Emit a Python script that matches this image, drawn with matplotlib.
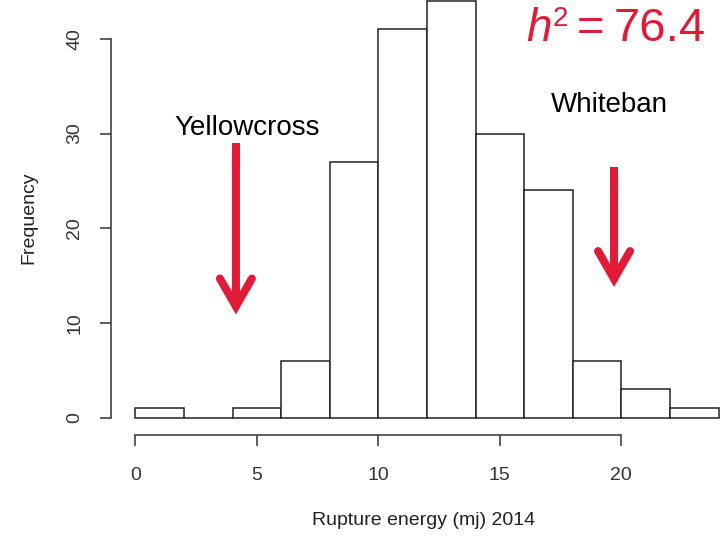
import matplotlib
matplotlib.use("Agg")
import matplotlib.pyplot as plt
from matplotlib.patches import FancyArrowPatch
import numpy as np

# Histogram of rupture energy (bins of width 2)
bin_edges = [0, 2, 4, 6, 8, 10, 12, 14, 16, 18, 20, 22, 24]
counts = [1, 0, 1, 6, 27, 41, 44, 30, 24, 6, 3, 1]
x_ticks = [0, 5, 10, 15, 20]
y_ticks = [0, 10, 20, 30, 40]

# Parent line positions, labels and arrow extents
parents = ["Yellowcross", "Whiteban"]
parent_x = [4.14, 19.7]
label_x = [4.62, 19.49]
label_y = [29.85, 32.3]
arrow_top = [29.0, 26.45]
arrow_tip = [10.9, 13.8]
heritability = "76.4"

RED = "#E11A38"
plt.rcParams["font.family"] = ["Liberation Sans", "DejaVu Sans"]

W, H = 720, 536
fig = plt.figure(figsize=(W / 100, H / 100), dpi=100)
ax = fig.add_axes([111 / W, 1 - 435 / H, 609 / W, 435 / H])
ax.set_xlim(-1.0, 24.06)
ax.set_ylim(-1.83, 44.1)

ax.bar(bin_edges[:-1], counts, width=np.diff(bin_edges), align="edge",
       facecolor="white", edgecolor="#222222", linewidth=1.1, zorder=2)

for side in ("top", "right"):
    ax.spines[side].set_visible(False)
ax.spines["left"].set_bounds(0, 40)
ax.spines["bottom"].set_bounds(0, 20)
for side in ("left", "bottom"):
    ax.spines[side].set_color("#333333")
    ax.spines[side].set_linewidth(1.1)

ax.set_xticks(x_ticks)
ax.set_yticks(y_ticks)
ax.set_yticklabels([str(v) for v in y_ticks], rotation=90, va="center")
ax.tick_params(axis="both", length=8, width=1.1, color="#333333",
               labelsize=14, labelcolor="#333333")
ax.tick_params(axis="x", pad=15)
ax.tick_params(axis="y", pad=12)

ax.set_xlabel("Rupture energy (mj) 2014", fontsize=14, color="#222222")
ax.set_ylabel("Frequency", fontsize=14, color="#222222", labelpad=21)
ax.xaxis.set_label_coords(0.514, -0.178)

# Parent labels and arrows: flat-topped shaft, V head with rounded arm ends
for name, px, lx, ly, top, tip in zip(parents, parent_x, label_x, label_y,
                                      arrow_top, arrow_tip):
    ax.text(lx, ly, name, fontsize=20, color="black", ha="center", va="baseline")
    arr = FancyArrowPatch((px, top - 1.2), (px, tip),
                          arrowstyle="->,head_length=2.0,head_width=1.15",
                          mutation_scale=10, color=RED, linewidth=5.8,
                          shrinkA=0, shrinkB=0,
                          joinstyle="miter", capstyle="round", zorder=3)
    ax.add_patch(arr)
    ax.plot([px, px], [top, top - 3], color=RED, linewidth=5.8,
            solid_capstyle="butt", zorder=3)

# Heritability annotation, top right
base = 1 - 41 / H
fig.text(526 / W, base, "h", fontsize=33, style="italic", color=RED,
         ha="left", va="baseline")
fig.text(553 / W, 1 - 26 / H, "2", fontsize=20, color=RED,
         ha="left", va="baseline")
fig.text(591 / W, base, "=", fontsize=34, color=RED, ha="center", va="baseline")
fig.text(706 / W, base, heritability, fontsize=34, color=RED,
         ha="right", va="baseline")

fig.savefig("out.png", dpi=100)
